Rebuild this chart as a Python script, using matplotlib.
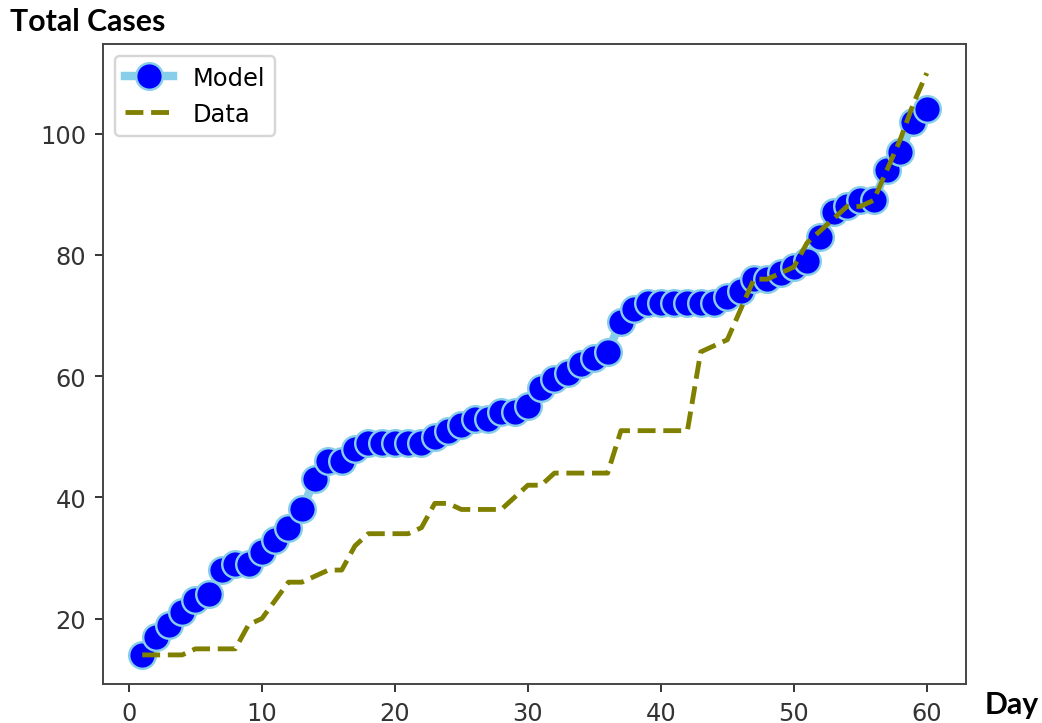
import matplotlib.pyplot as plt

days = list(range(1, 61))

model = [14, 17, 19, 21, 23, 24, 28, 29, 29, 31,
         33, 35, 38, 43, 46, 46, 48, 49, 49, 49,
         49, 49, 50, 51, 52, 53, 53, 54, 54, 55,
         58, 59.5, 60.5, 62, 63, 64, 69, 71, 72, 72,
         72, 72, 72, 72, 73, 74, 76, 76, 77, 78,
         79, 83, 87, 88, 89, 89, 94, 97, 102, 104]

data = [14, 14, 14, 14, 15, 15, 15, 15, 19, 20,
        23, 26, 26, 27, 28, 28, 32, 34, 34, 34,
        34, 35, 39, 39, 38, 38, 38, 38, 40, 42,
        42, 44, 44, 44, 44, 44, 51, 51, 51, 51,
        51, 51, 64, 65, 66, 71, 76, 76, 77, 78,
        82, 84, 86, 88, 88, 89, 94, 99, 105, 110]

fig = plt.figure(figsize=(1042 / 174, 724 / 174), dpi=174)
ax = fig.add_axes([103 / 1042, 1 - 685 / 724, 863 / 1042, 640 / 724])

# model curve: thick light blue line with big blue dots
ax.plot(days, model, 'o-', color='skyblue', markerfacecolor='blue',
        markersize=11, linewidth=3.5, label='Model')
# observed data as dashed line
ax.plot(days, data, '--', color='olive', linewidth=2, label='Data')

ax.set_yticks([20, 40, 60, 80, 100])
ax.tick_params(colors='#333333')
for s in ax.spines.values():
    s.set_color('#444444')
ax.legend(loc='upper left')

fig.text(10 / 1042, 1 - 22 / 724, 'Total Cases', fontsize=12.5, fontweight='bold',
         family='Lato', va='center', ha='left')
fig.text(985 / 1042, 1 - 705 / 724, 'Day', fontsize=12.5, fontweight='bold',
         family='Lato', va='center', ha='left')

fig.savefig('out.png', dpi=174)
